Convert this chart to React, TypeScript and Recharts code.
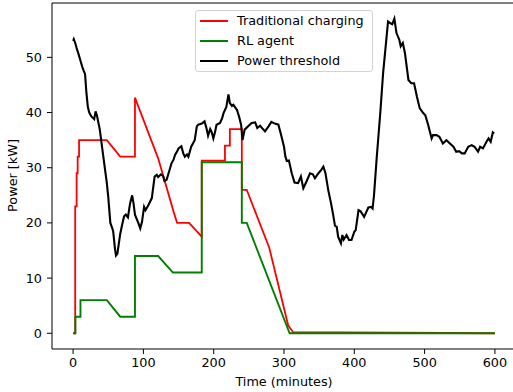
import React from "react";
import { LineChart, Line, XAxis, YAxis, ReferenceLine, Label } from "recharts";

const timeTicks = [0, 100, 200, 300, 400, 500, 600];
const powerTicks = [0, 10, 20, 30, 40, 50];

const traditionalTime = [0, 3, 3, 5, 5, 6.5, 6.5, 8.5, 8.5, 48, 67, 88, 88, 121, 143, 148, 165, 183, 183, 216, 216, 223, 223, 240, 240, 247, 279, 306, 313, 600];
const traditionalPower = [0, 0, 23, 23, 29, 29, 32, 32, 35, 35, 32, 32, 42.7, 31.7, 22, 20, 20, 17.5, 31.3, 31.3, 34, 34, 37, 37, 26, 26, 15.5, 1.4, 0.2, 0];

const agentTime = [0, 3.3, 3.3, 10.5, 10.5, 48, 67, 88, 88, 121, 142, 183, 183, 240, 240, 247, 308, 600];
const agentPower = [0, 0, 3, 3, 6, 6, 3, 3, 14, 14, 11, 11, 31, 31, 20, 20, 0, 0];

const thresholdTime = [
  0, 1, 3, 5, 8, 10, 13, 15, 17, 19, 21, 23, 26, 30, 32, 34, 38, 43, 48, 50,
  53, 55, 57, 59.5, 61, 63, 67, 70, 72.5, 75, 78, 81, 84, 86, 88, 93, 95.5, 98, 101, 103,
  107, 112, 114, 116, 119, 121, 125, 128, 130, 133, 137, 140, 143, 145, 148, 150, 154, 157, 159, 162,
  164, 168, 173, 176, 178, 183, 187, 190, 192, 195, 197, 199.5, 202, 204, 209, 212, 214, 218, 221, 223,
  226, 228, 233, 236, 239, 241, 244, 249, 254, 259, 262, 266, 270, 273, 278, 282, 287, 292, 296, 300,
  302, 304, 307, 311, 315, 320, 324, 327.5, 332, 337, 341, 344, 349, 353, 356, 359, 363, 367, 370, 372.5,
  375, 377, 381, 383, 385, 389, 392.5, 396, 400, 402, 406, 409, 414, 420, 424, 426, 428, 432, 437, 441,
  445, 448, 451, 454, 457, 460, 464, 466, 469, 472, 477, 481, 485, 489, 493, 498, 501, 505, 510, 512,
  517, 521, 526, 531, 536, 541, 545, 549, 553, 557, 562, 567, 571, 576, 579, 583, 588, 591, 594, 597, 599
];
const thresholdPower = [
  53.0, 53.3, 52.6, 51.7, 50.5, 49.6, 48.3, 47.6, 47.0, 43.5, 41.0, 40.0, 39.3, 38.8, 40.2, 39.4, 36.9, 32.0, 27.2, 24.7,
  20.0, 19.3, 18.5, 15.4, 14.1, 14.4, 18.0, 19.8, 21.2, 21.5, 21.0, 23.5, 25.0, 23.5, 21.5, 19.9, 19.0, 20.2, 22.9, 22.3,
  23.2, 24.5, 26.5, 28.4, 28.7, 28.3, 28.8, 28.5, 27.6, 27.8, 29.5, 30.8, 31.5, 32.3, 33.0, 33.5, 33.9, 32.5, 32.0, 32.4,
  32.0, 33.8, 35.0, 37.5, 37.8, 38.0, 38.4, 37.0, 35.8, 37.0, 36.5, 35.3, 36.5, 37.8, 38.1, 39.0, 39.9, 41.0, 43.3, 41.7,
  41.2, 41.4, 40.5, 39.3, 37.8, 35.0, 36.9, 37.5, 38.1, 38.2, 37.2, 37.6, 37.0, 36.6, 37.5, 38.3, 38.0, 37.8, 35.9, 33.8,
  32.0, 31.2, 31.3, 29.0, 27.3, 27.2, 28.4, 26.3, 27.5, 29.0, 28.8, 28.1, 29.0, 29.6, 30.2, 29.0, 25.9, 23.5, 21.4, 19.5,
  19.3, 17.5, 16.3, 17.8, 17.0, 17.8, 16.9, 16.9, 18.4, 18.7, 22.3, 22.1, 21.1, 22.8, 22.9, 22.6, 25.0, 32.0, 40.0, 47.2,
  52.5, 56.5, 56.2, 56.0, 57.0, 54.4, 53.2, 52.0, 52.6, 50.8, 45.9, 45.3, 45.3, 42.9, 40.8, 39.9, 39.5, 37.8, 35.3, 35.9,
  35.9, 35.6, 34.4, 35.0, 34.4, 33.8, 32.9, 33.0, 32.6, 32.6, 33.8, 34.1, 33.8, 32.9, 33.8, 33.5, 34.7, 35.3, 34.7, 36.4, 36.2
];

const xDomain = [-30, 630];
const yDomain = [-2.85, 59.85];

const toPoints = (ts: number[], vs: number[]) => ts.map((t, i) => ({ t, v: vs[i] }));

const traditional = toPoints(traditionalTime, traditionalPower);
const agent = toPoints(agentTime, agentPower);
const threshold = toPoints(thresholdTime, thresholdPower);

const font = "DejaVu Sans";
const fontSize = 12.8;
const tickStyle = { fill: "#000", fontSize, fontFamily: font };

const legendItems = [
  { label: "Traditional charging", color: "#ff0000" },
  { label: "RL agent", color: "#008000" },
  { label: "Power threshold", color: "#000000" }
];

function YTitle() {
  return (
    <text
      x={16.5}
      y={175.5}
      transform="rotate(-90 16.5 175.5)"
      textAnchor="middle"
      fill="#000"
      fontSize={fontSize}
      fontFamily={font}
    >
      Power [kW]
    </text>
  );
}

export default function App() {
  return (
    <div
      style={{
        position: "absolute",
        left: 0,
        top: 0,
        width: 513,
        height: 392,
        overflow: "hidden",
        background: "#fff",
        fontFamily: font
      }}
    >
      <LineChart width={520} height={392} margin={{ top: 3, right: 4, bottom: 0, left: 0 }}>
        <XAxis
          type="number"
          dataKey="t"
          domain={xDomain}
          ticks={timeTicks}
          allowDataOverflow
          height={43}
          tickSize={5}
          tickMargin={4}
          tick={tickStyle}
          axisLine={{ stroke: "#000" }}
          tickLine={{ stroke: "#000" }}
        >
          <Label value="Time (minutes)" position="insideBottom" offset={6} fill="#000" fontSize={fontSize} fontFamily={font} />
        </XAxis>
        <YAxis
          type="number"
          domain={yDomain}
          ticks={powerTicks}
          allowDataOverflow
          width={52}
          tickSize={5}
          tickMargin={5}
          tick={tickStyle}
          axisLine={{ stroke: "#000" }}
          tickLine={{ stroke: "#000" }}
        >
          <Label content={<YTitle />} />
        </YAxis>
        <ReferenceLine y={yDomain[1]} stroke="#000" strokeWidth={1} />
        <ReferenceLine x={xDomain[1]} stroke="#000" strokeWidth={1} />
        <Line
          data={traditional}
          dataKey="v"
          type="linear"
          stroke="#ff0000"
          strokeWidth={1.8}
          dot={false}
          activeDot={false}
          isAnimationActive={false}
        />
        <Line
          data={agent}
          dataKey="v"
          type="linear"
          stroke="#008000"
          strokeWidth={1.9}
          dot={false}
          activeDot={false}
          isAnimationActive={false}
        />
        <Line
          data={threshold}
          dataKey="v"
          type="linear"
          stroke="#000"
          strokeWidth={2.1}
          dot={false}
          activeDot={false}
          isAnimationActive={false}
        />
      </LineChart>
      <div
        style={{
          position: "absolute",
          left: 195,
          top: 10,
          width: 178,
          height: 62,
          boxSizing: "border-box",
          border: "1px solid #d3d3d3",
          borderRadius: 3,
          background: "rgba(255,255,255,0.8)"
        }}
      >
        {legendItems.map((item, i) => (
          <div key={item.label} style={{ position: "absolute", left: 0, top: i * 20, height: 20, width: "100%" }}>
            <div
              style={{
                position: "absolute",
                left: 4,
                top: 9,
                width: 28,
                height: 2,
                background: item.color
              }}
            />
            <div
              style={{
                position: "absolute",
                left: 41,
                top: 0,
                lineHeight: "20px",
                fontSize,
                color: "#000",
                whiteSpace: "nowrap"
              }}
            >
              {item.label}
            </div>
          </div>
        ))}
      </div>
    </div>
  );
}
